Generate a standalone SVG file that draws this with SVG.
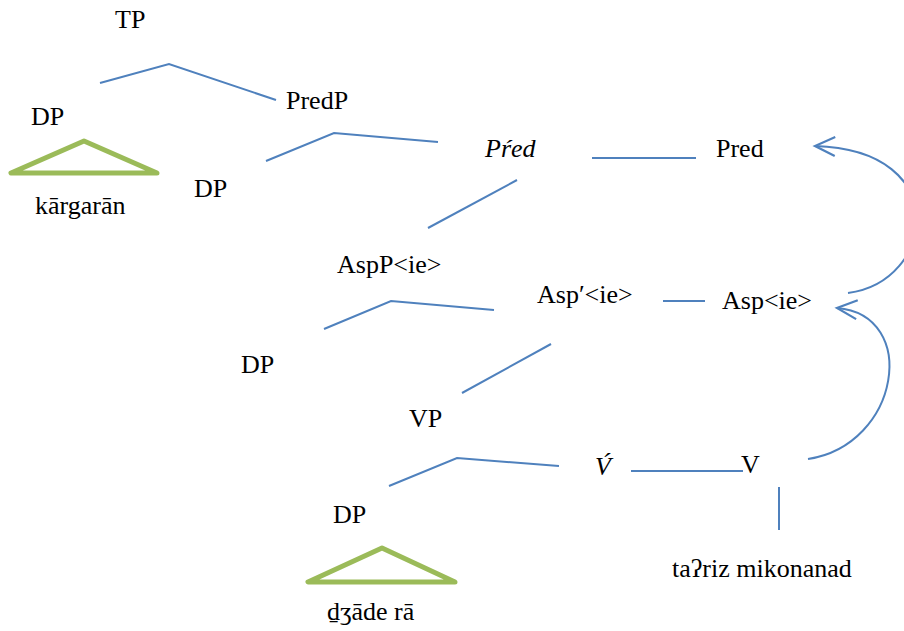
<svg xmlns="http://www.w3.org/2000/svg" width="904" height="631" viewBox="0 0 904 631" font-family="Liberation Serif, Times New Roman, serif">
<style>
text{font-size:26px;fill:#000}
.it{font-style:italic}
.ln{fill:none;stroke:#4F81BD;stroke-width:2}
.tri{fill:none;stroke:#9BBB59;stroke-width:5;stroke-linejoin:round;stroke-linecap:round}
</style>
<defs>
<marker id="arr" markerUnits="userSpaceOnUse" markerWidth="30" markerHeight="30" viewBox="-25 -15 30 30" refX="0" refY="0" orient="auto">
<path d="M-20,-9.5 L0,0 L-20,9.5" fill="none" stroke="#4F81BD" stroke-width="2.2"/>
</marker>
</defs>
<rect width="904" height="631" fill="#fff"/>
<g id="connectors">
<polyline class="ln" points="100,83 169,64 276,100"/>
<polyline class="ln" points="266,161 334,133 438,142"/>
<line class="ln" x1="592" y1="158" x2="696" y2="158"/>
<line class="ln" x1="517" y1="180" x2="428" y2="228"/>
<polyline class="ln" points="324,329 391,301 494,310"/>
<line class="ln" x1="663" y1="301" x2="705" y2="301"/>
<line class="ln" x1="551" y1="344" x2="462" y2="393"/>
<polyline class="ln" points="389,486 457,458 559,466"/>
<line class="ln" x1="631" y1="471" x2="743" y2="471"/>
<line class="ln" x1="779" y1="487" x2="779" y2="530"/>
<path class="ln" d="M808,459 C900,445 920,315 837,308" marker-end="url(#arr)"/>
<path class="ln" d="M848,293 C935,282 955,150 815,146" marker-end="url(#arr)"/>
</g>
<g id="TP"><text x="115" y="28">TP</text></g>
<g id="DP1"><text x="31" y="125">DP</text>
<polygon class="tri" points="84,141 11,173 157,173"/>
<text x="35" y="214">kārgarān</text></g>
<g id="PredP"><text x="286" y="109">PredP</text></g>
<g id="DP2"><text x="194" y="197">DP</text></g>
<g id="PredBar"><text class="it" x="485" y="157">Pŕed</text></g>
<g id="Pred"><text x="716" y="157">Pred</text></g>
<g id="AspP"><text x="337" y="273">AspP&lt;ie&gt;</text></g>
<g id="AspBar"><text x="537" y="303">Asp′&lt;ie&gt;</text></g>
<g id="Asp"><text x="722" y="309">Asp&lt;ie&gt;</text></g>
<g id="DP3"><text x="241" y="373">DP</text></g>
<g id="VP"><text x="409" y="427">VP</text></g>
<g id="VBar"><text class="it" x="595" y="475">V́</text></g>
<g id="V"><text x="741" y="473">V</text></g>
<g id="DP4"><text x="333" y="523">DP</text>
<polygon class="tri" points="382,548 308,582 455,582"/>
<text x="327" y="620">ḏʒāde rā</text></g>
<g id="verb"><text x="672" y="577">taʔriz mikonanad</text></g>
</svg>
